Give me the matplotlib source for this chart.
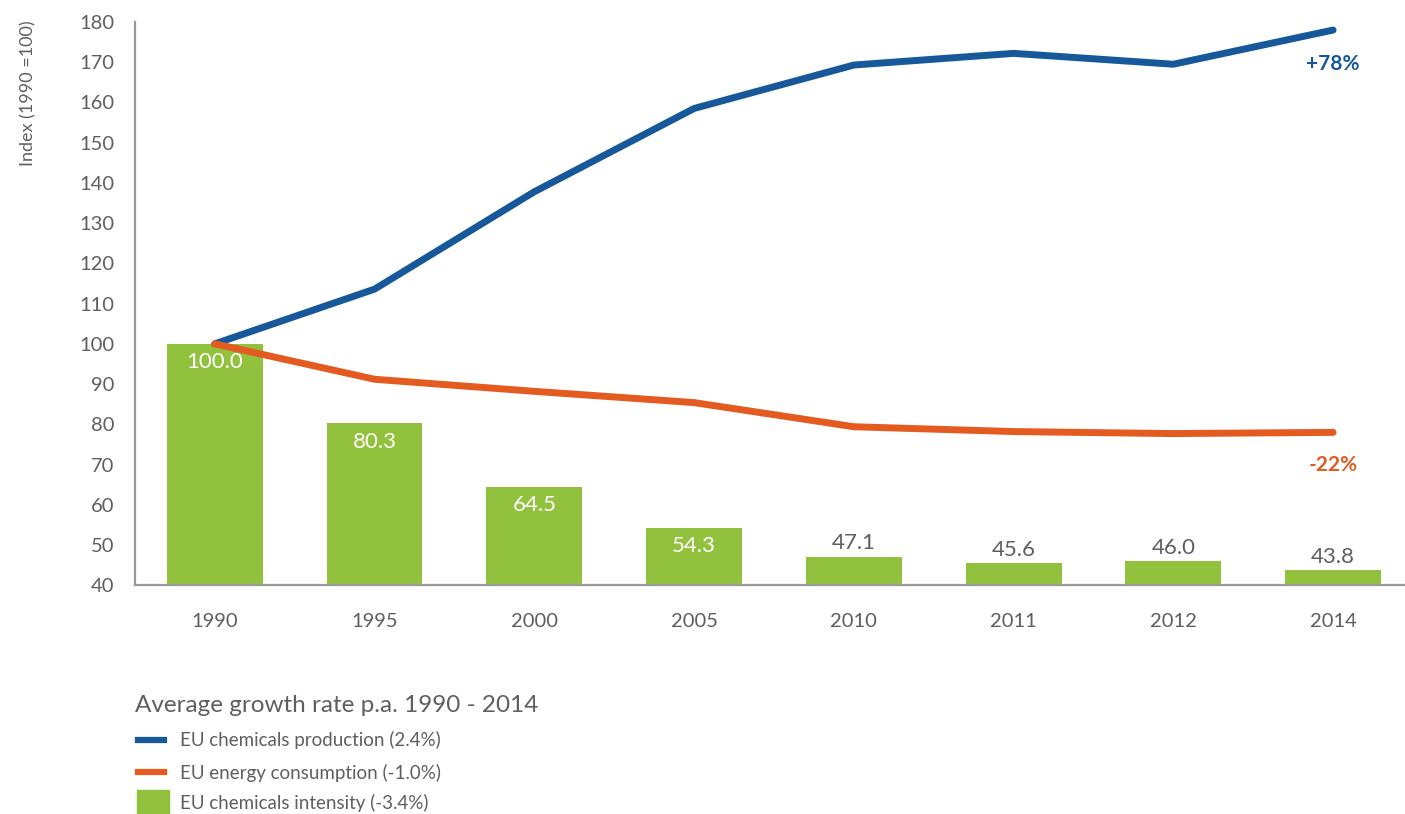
import matplotlib
matplotlib.use('Agg')
import matplotlib.pyplot as plt
from matplotlib.lines import Line2D
from matplotlib.patches import Rectangle

plt.rcParams['font.family'] = ['Lato', 'DejaVu Sans']

years = ['1990', '1995', '2000', '2005', '2010', '2011', '2012', '2014']
production = [100, 113.6, 137.8, 158.5, 169.3, 172.2, 169.5, 178]
energy = [100, 91.2, 88.2, 85.4, 79.4, 78.2, 77.7, 78]
intensity = [100.0, 80.3, 64.5, 54.3, 47.1, 45.6, 46.0, 43.8]

blue = '#16589a'
orange = '#e35b20'
green = '#92c13e'
grey_text = '#5f5f5f'

fig = plt.figure(figsize=(14.05, 8.14), dpi=100)
ax = fig.add_axes([0.096, 0.281, 0.904, 0.692])

x = list(range(len(years)))
base = 40
ax.bar(x, [v - base for v in intensity], bottom=base, width=0.6, color=green, zorder=2)
ax.plot(x, production, color=blue, lw=5, solid_capstyle='round', solid_joinstyle='round', zorder=3)
ax.plot(x, energy, color=orange, lw=5, solid_capstyle='round', solid_joinstyle='round', zorder=3)

# value labels: inside the tall bars, above the short ones
for i, v in enumerate(intensity):
    if v > 50:
        ax.text(i, v - 4.6, f'{v:.1f}', ha='center', va='center', color='white', fontsize=16)
    else:
        ax.text(i, v + 0.8, f'{v:.1f}', ha='center', va='bottom', color=grey_text, fontsize=16)

ax.text(x[-1], production[-1] - 8.5, f'+{production[-1] - 100:.0f}%', ha='center', va='center',
        color=blue, fontsize=15, fontweight='bold')
ax.text(x[-1], energy[-1] - 8, f'-{100 - energy[-1]:.0f}%', ha='center', va='center',
        color=orange, fontsize=15, fontweight='bold')

ax.set_ylim(40, 180)
ax.set_xlim(-0.5, 7.45)
ax.set_yticks(range(40, 181, 10))
ax.set_xticks(x)
ax.set_xticklabels(years)
ax.tick_params(axis='both', length=0, labelsize=14.5, colors=grey_text)
ax.tick_params(axis='y', pad=15)
ax.tick_params(axis='x', pad=20)
for side in ['top', 'right']:
    ax.spines[side].set_visible(False)
for side in ['left', 'bottom']:
    ax.spines[side].set_color('#9a9a9a')
    ax.spines[side].set_linewidth(1.6)

fig.text(0.02, 0.885, 'Index (1990 =100)', rotation=90, ha='center', va='center',
         color=grey_text, fontsize=13)

# legend block below the chart
fig.text(0.096, 0.133, 'Average growth rate p.a. 1990 - 2014', ha='left', va='center',
         color=grey_text, fontsize=17.5)
entries = [('EU chemicals production (2.4%)', blue, 0.091),
           ('EU energy consumption (-1.0%)', orange, 0.051)]
for label, col, yy in entries:
    fig.add_artist(Line2D([0.0985, 0.117], [yy, yy], color=col, lw=4.5, transform=fig.transFigure))
    fig.text(0.128, yy, label, ha='left', va='center', color=grey_text, fontsize=13.5)
fig.add_artist(Rectangle((0.0975, -0.005), 0.023, 0.035, color=green, transform=fig.transFigure))
fig.text(0.128, 0.014, 'EU chemicals intensity (-3.4%)', ha='left', va='center',
         color=grey_text, fontsize=13.5)

fig.savefig('out.png', dpi=100)
